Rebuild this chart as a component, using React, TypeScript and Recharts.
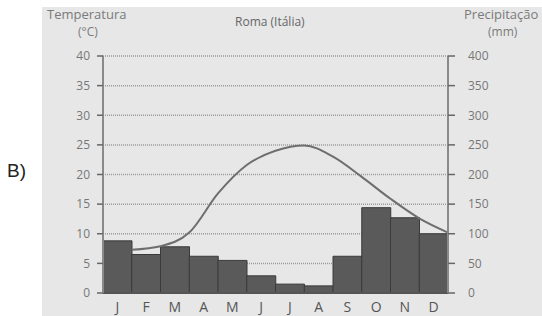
import React from 'react';
import {
  ComposedChart,
  Bar,
  Line,
  XAxis,
  YAxis,
  CartesianGrid,
} from 'recharts';

const months = ['J', 'F', 'M', 'A', 'M', 'J', 'J', 'A', 'S', 'O', 'N', 'D'];
const precipitation = [88, 65, 78, 62, 55, 29, 15, 12, 62, 144, 127, 100];
const temperature = [7.3, 7.9, 10.2, 16.8, 21.6, 24.0, 24.9, 23.0, 19.6, 15.9, 12.6, 10.2];
const tempTicks = [0, 5, 10, 15, 20, 25, 30, 35, 40];
const precTicks = [0, 50, 100, 150, 200, 250, 300, 350, 400];

// the temperature curve is plotted at each month's end (1..12)
const data = months.map((m, i) => ({
  m,
  i: i + 1,
  p: precipitation[i],
  t: temperature[i],
}));

const label: React.CSSProperties = {
  position: 'absolute',
  fontFamily: '"Open Sans", "Liberation Sans", sans-serif',
  fontSize: 12,
  lineHeight: 1,
  color: '#7a7a7a',
  whiteSpace: 'nowrap',
};

export default function App() {
  return (
    <div
      style={{
        position: 'absolute',
        left: 0,
        top: 0,
        width: 542,
        height: 316,
        overflow: 'hidden',
        background: '#fff',
      }}
    >
      <div
        style={{
          position: 'absolute',
          left: 42,
          top: 7,
          width: 500,
          height: 309,
          background: '#e7e7e7',
        }}
      />
      <div
        style={{
          position: 'absolute',
          left: 7,
          top: 161,
          fontFamily: '"Liberation Sans", Arial, sans-serif',
          fontSize: 19,
          lineHeight: 1,
          color: '#222',
        }}
      >
        B)
      </div>
      <div style={{ ...label, left: 47, top: 8, fontSize: 13 }}>Temperatura</div>
      <div style={{ ...label, left: 78, top: 26, fontSize: 12 }}>(°C)</div>
      <div style={{ ...label, left: 235, top: 16, fontSize: 12, color: '#666' }}>Roma (Itália)</div>
      <div style={{ ...label, left: 464, top: 8, fontSize: 13 }}>Precipitação</div>
      <div style={{ ...label, left: 488, top: 26, fontSize: 12 }}>(mm)</div>
      <div style={{ position: 'absolute', left: 0, top: 0 }}>
        <ComposedChart
          width={542}
          height={316}
          data={data}
          margin={{ top: 56, right: 34, bottom: 3, left: 43 }}
          barCategoryGap={0}
        >
          <CartesianGrid
            yAxisId="t"
            vertical={false}
            stroke="#9a9a9a"
            strokeDasharray="1 1"
            strokeWidth={1.5}
          />
          <XAxis
            dataKey="m"
            tickLine={false}
            axisLine={{ stroke: '#555', strokeWidth: 2 }}
            tick={{ fontSize: 14, fill: '#555', fontFamily: '"Open Sans", sans-serif' }}
            tickMargin={3}
            height={20}
            interval={0}
          />
          <XAxis xAxisId="line" type="number" dataKey="i" domain={[0, 12]} hide />
          <YAxis
            yAxisId="t"
            orientation="left"
            domain={[0, 40]}
            ticks={tempTicks}
            width={60}
            axisLine={{ stroke: '#8a8a8a', strokeWidth: 2 }}
            tickLine={{ stroke: '#666', strokeWidth: 1.5 }}
            tickSize={6}
            tickMargin={7}
            tick={{ fontSize: 12, fill: '#777', fontFamily: '"Open Sans", sans-serif' }}
          />
          <YAxis
            yAxisId="p"
            orientation="right"
            domain={[0, 400]}
            ticks={precTicks}
            width={60}
            axisLine={{ stroke: '#8a8a8a', strokeWidth: 2 }}
            tickLine={{ stroke: '#666', strokeWidth: 1.5 }}
            tickSize={7}
            tickMargin={13}
            tick={{ fontSize: 12, fill: '#777', fontFamily: '"Open Sans", sans-serif' }}
          />
          <Bar
            yAxisId="p"
            dataKey="p"
            fill="#5a5a5a"
            stroke="#3a3a3a"
            strokeWidth={1}
            isAnimationActive={false}
          />
          <Line
            yAxisId="t"
            xAxisId="line"
            dataKey="t"
            type="monotone"
            stroke="#6e6e6e"
            strokeWidth={2}
            dot={false}
            activeDot={false}
            isAnimationActive={false}
          />
        </ComposedChart>
      </div>
    </div>
  );
}
